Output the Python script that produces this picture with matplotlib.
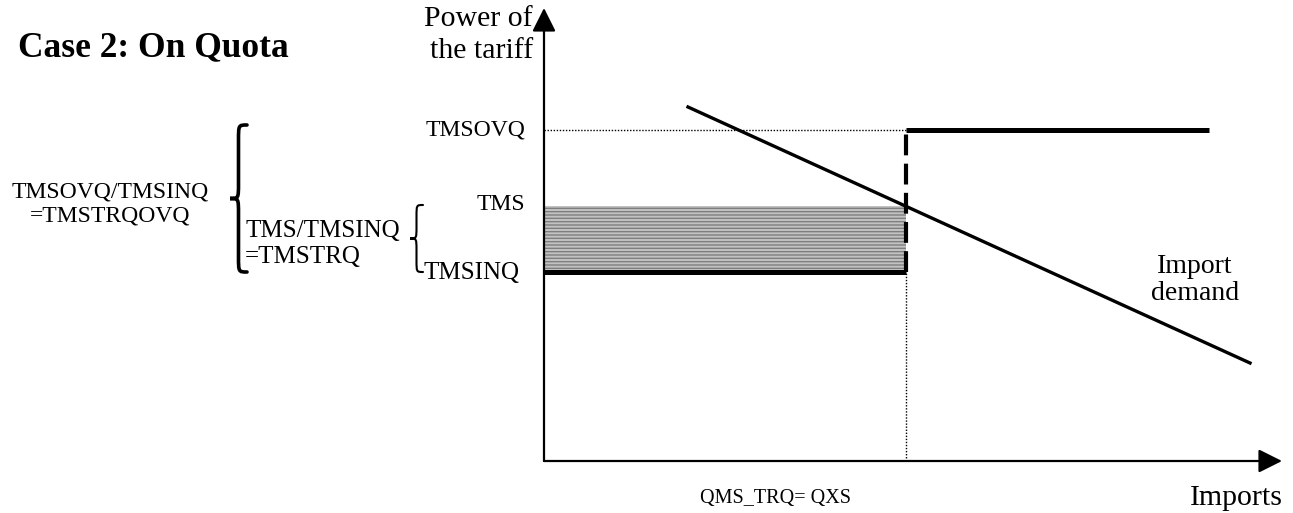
import numpy as np
import matplotlib
matplotlib.use('Agg')
import matplotlib.pyplot as plt
from matplotlib.path import Path
from matplotlib.patches import PathPatch

plt.rcParams['font.family'] = ['Liberation Serif', 'DejaVu Serif']
plt.rcParams['hatch.linewidth'] = 1.0

# diagram values (units measured from the axis origin)
tms_inq = 189
tms = 255
tms_ovq = 331
qxs = 362
ovq_end = 665
demand_x = [144, 706]
demand_y = [354, 98]
x_axis_end = 738
y_axis_end = 453

fig = plt.figure(figsize=(12.93, 5.13), dpi=100)
ax = fig.add_axes([0, 0, 1, 1])
ax.set_xlim(-544, 749)
ax.set_ylim(-52, 461)
ax.axis('off')


def brace(ax, xt, y_top, y_bot, w, lw=2):
    # curly brace "{" with its tips at xt
    xm = xt - w / 2
    ym = (y_top + y_bot) / 2
    r = w * 0.9
    verts = [(xt, y_top), (xm, y_top), (xm, y_top), (xm, y_top - r),
             (xm, ym + r),
             (xm, ym), (xm, ym), (xt - w, ym),
             (xm, ym), (xm, ym), (xm, ym - r),
             (xm, y_bot + r),
             (xm, y_bot), (xm, y_bot), (xt, y_bot)]
    codes = [Path.MOVETO, Path.CURVE4, Path.CURVE4, Path.CURVE4,
             Path.LINETO,
             Path.CURVE4, Path.CURVE4, Path.CURVE4,
             Path.CURVE4, Path.CURVE4, Path.CURVE4,
             Path.LINETO,
             Path.CURVE4, Path.CURVE4, Path.CURVE4]
    ax.add_patch(PathPatch(Path(verts, codes), fill=False, lw=lw, color='black',
                           capstyle='round', joinstyle='miter'))


# shaded area between TMSINQ and TMS up to the quota
ax.fill_between([0, qxs], [tms_inq, tms_inq], [tms, tms], facecolor='#c2c2c2',
                edgecolor='#7e7e7e', hatch='-----', lw=0, zorder=1)

# axes with arrow heads
arrow_style = '-|>,head_length=0.8,head_width=0.4'
ax.annotate('', xy=(x_axis_end, 0), xytext=(0, 0),
            arrowprops=dict(arrowstyle=arrow_style, lw=1.6, color='black',
                            shrinkA=0, shrinkB=0, mutation_scale=18))
ax.annotate('', xy=(0, y_axis_end), xytext=(0, 0),
            arrowprops=dict(arrowstyle=arrow_style, lw=1.6, color='black',
                            shrinkA=0, shrinkB=0, mutation_scale=18))

# dotted guides
ax.plot([0, qxs], [tms_ovq, tms_ovq], color='black', lw=1, ls=(0, (1, 1.2)))
ax.plot([qxs, qxs], [0, tms_inq], color='black', lw=1, ls=(0, (1, 1.2)))

# tariff schedule
ax.plot([0, qxs], [tms_inq, tms_inq], color='black', lw=3.6, solid_capstyle='butt', zorder=3)
ax.plot([qxs, qxs], [tms_inq, tms_ovq], color='black', lw=3, ls=(0, (5, 2)), zorder=3)
ax.plot([qxs, ovq_end], [tms_ovq, tms_ovq], color='black', lw=3.6, solid_capstyle='butt', zorder=3)

# import demand
ax.plot(demand_x, demand_y, color='black', lw=2.4, zorder=4)

# texts
ax.text(-526, 413, 'Case 2: On Quota', fontsize=25.5, fontweight='bold', ha='left', va='center')
ax.text(-11, 426, 'Power of\nthe tariff', fontsize=21.5, ha='right', va='center', linespacing=1.25)
ax.text(-19, tms_ovq, 'TMSOVQ', fontsize=17, ha='right', va='center')
ax.text(-19, tms + 1, 'TMS', fontsize=17, ha='right', va='center')
ax.text(-121, tms_inq - 1, 'TMSINQ', fontsize=18, ha='left', va='center')
ax.text(-299, 217, 'TMS/TMSINQ\n=TMSTRQ', fontsize=18, ha='left', va='center', linespacing=1.2)
ax.text(-434, 257, 'TMSOVQ/TMSINQ\n=TMSTRQOVQ', fontsize=17, ha='center', va='center',
        linespacing=1.2)
ax.text(651, 181, 'Import\ndemand', fontsize=20, ha='center', va='center', linespacing=1.15)
ax.text(231, -37, 'QMS_TRQ= QXS', fontsize=14.5, ha='center', va='center')
ax.text(739, -37, 'Imports', fontsize=21.5, ha='right', va='center')

brace(ax, -297, 336, 189, 17, lw=2.6)
brace(ax, -121, 256, 189, 13, lw=1.5)

fig.savefig('out.png', dpi=100)
